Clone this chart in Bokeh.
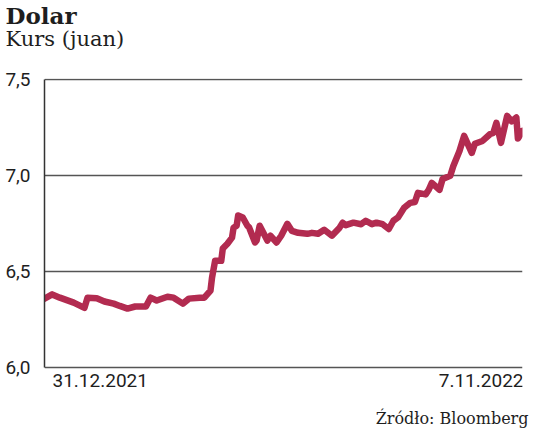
import pandas as pd
from bokeh.plotting import figure
from bokeh.models import FixedTicker, Title, Label, Range1d
from bokeh.embed import file_html
from bokeh.resources import INLINE

dates = [
    "2021-12-31", "2022-01-05", "2022-01-10", "2022-01-19", "2022-01-26", "2022-01-28",
    "2022-02-03", "2022-02-08", "2022-02-14", "2022-02-18", "2022-02-23", "2022-02-28",
    "2022-03-07", "2022-03-10", "2022-03-14", "2022-03-21", "2022-03-25", "2022-03-31",
    "2022-04-04", "2022-04-11", "2022-04-14", "2022-04-18", "2022-04-19", "2022-04-21",
    "2022-04-25", "2022-04-26", "2022-04-29", "2022-05-02", "2022-05-03", "2022-05-05",
    "2022-05-06", "2022-05-09", "2022-05-12", "2022-05-13", "2022-05-17", "2022-05-18",
    "2022-05-20", "2022-05-25", "2022-05-27", "2022-05-31", "2022-06-03", "2022-06-07",
    "2022-06-10", "2022-06-14", "2022-06-20", "2022-06-23", "2022-06-27", "2022-07-01",
    "2022-07-06", "2022-07-11", "2022-07-13", "2022-07-15", "2022-07-20", "2022-07-25",
    "2022-07-28", "2022-08-01", "2022-08-04", "2022-08-08", "2022-08-12", "2022-08-15",
    "2022-08-18", "2022-08-22", "2022-08-26", "2022-08-29", "2022-08-31", "2022-09-05",
    "2022-09-07", "2022-09-09", "2022-09-14", "2022-09-16", "2022-09-21", "2022-09-23",
    "2022-09-27", "2022-09-30", "2022-10-05", "2022-10-07", "2022-10-12", "2022-10-17",
    "2022-10-19", "2022-10-21", "2022-10-24", "2022-10-28", "2022-10-31", "2022-11-03",
    "2022-11-04", "2022-11-07",
]
rates = [
    6.358, 6.380, 6.363, 6.337, 6.310, 6.363,
    6.360, 6.343, 6.332, 6.320, 6.306, 6.317,
    6.317, 6.363, 6.348, 6.368, 6.363, 6.332,
    6.358, 6.363, 6.363, 6.400, 6.467, 6.555,
    6.555, 6.618, 6.643, 6.675, 6.727, 6.737,
    6.790, 6.780, 6.737, 6.730, 6.650, 6.660,
    6.737, 6.660, 6.685, 6.650, 6.685, 6.747,
    6.710, 6.700, 6.695, 6.700, 6.695, 6.716,
    6.685, 6.727, 6.753, 6.740, 6.753, 6.745,
    6.763, 6.745, 6.753, 6.745, 6.720, 6.763,
    6.780, 6.830, 6.856, 6.860, 6.908, 6.900,
    6.924, 6.960, 6.924, 6.980, 6.997, 7.048,
    7.126, 7.204, 7.116, 7.163, 7.178, 7.214,
    7.220, 7.272, 7.168, 7.308, 7.280, 7.300,
    7.190, 7.230,
]
y_ticks = [6.0, 6.5, 7.0, 7.5]
y_tick_labels = ["6,0", "6,5", "7,0", "7,5"]
x_tick_labels = ["31.12.2021", "7.11.2022"]
title_text = "Dolar"
subtitle_text = "Kurs (juan)"
source_text = "Źródło: Bloomberg"

x = pd.to_datetime(dates)
x0 = x[0].timestamp() * 1000
x1 = x[-1].timestamp() * 1000

# y range reaches below 6,0 to leave room inside the frame for the date labels
p = figure(width=536, height=428, x_axis_type="datetime", title=None,
           output_backend="svg", toolbar_location=None,
           x_range=Range1d(x0, x1), y_range=Range1d(5.797, 7.5026),
           min_border_left=44, min_border_right=14, min_border_top=78,
           min_border_bottom=22)
p.outline_line_color = None
p.xaxis.visible = False

# blank title used only as spacing between the frame and the heading
p.add_layout(Title(text=" ", text_font="DejaVu Serif", text_font_size="10px",
                   text_color="white", standoff=15), "above")
p.add_layout(Title(text=subtitle_text, text_font="DejaVu Serif", text_font_size="21px",
                   text_font_style="normal", text_color="#1e1e1e", align="left",
                   offset=-39, standoff=0), "above")
p.add_layout(Title(text=title_text, text_font="DejaVu Serif", text_font_size="23px",
                   text_font_style="bold", text_color="#1e1e1e", align="left",
                   offset=-39, standoff=-9), "above")
p.add_layout(Title(text=source_text, text_font="DejaVu Serif", text_font_size="16px",
                   text_font_style="normal", text_color="#1e1e1e", align="right",
                   offset=-6, standoff=0), "below")

p.yaxis.bounds = (y_ticks[0], y_ticks[-1])
p.yaxis.ticker = FixedTicker(ticks=y_ticks)
p.yaxis.major_label_overrides = dict(zip(y_ticks, y_tick_labels))
p.yaxis.major_tick_line_color = None
p.yaxis.minor_tick_line_color = None
p.yaxis.axis_line_color = "#333333"
p.yaxis.axis_line_width = 1.5
p.yaxis.major_label_text_font = "Roboto"
p.yaxis.major_label_text_font_size = "19px"
p.yaxis.major_label_text_color = "#1e1e1e"
p.yaxis.major_label_standoff = 8

p.xgrid.grid_line_color = None
p.ygrid.ticker = FixedTicker(ticks=y_ticks)
p.ygrid.grid_line_color = "#555555"
p.ygrid.grid_line_width = 1.5

p.line(x, rates, line_color="#B22B50", line_width=6.5, line_join="round", line_cap="round")

p.add_layout(Label(x=x0, y=y_ticks[0], text=x_tick_labels[0], text_align="left",
                   text_baseline="top", x_offset=8, y_offset=-7,
                   text_font="Roboto", text_font_size="19px", text_color="#1e1e1e"))
p.add_layout(Label(x=x1, y=y_ticks[0], text=x_tick_labels[1], text_align="right",
                   text_baseline="top", x_offset=1, y_offset=-7,
                   text_font="Roboto", text_font_size="19px", text_color="#1e1e1e"))

open("out.html", "w").write(file_html(p, INLINE))
